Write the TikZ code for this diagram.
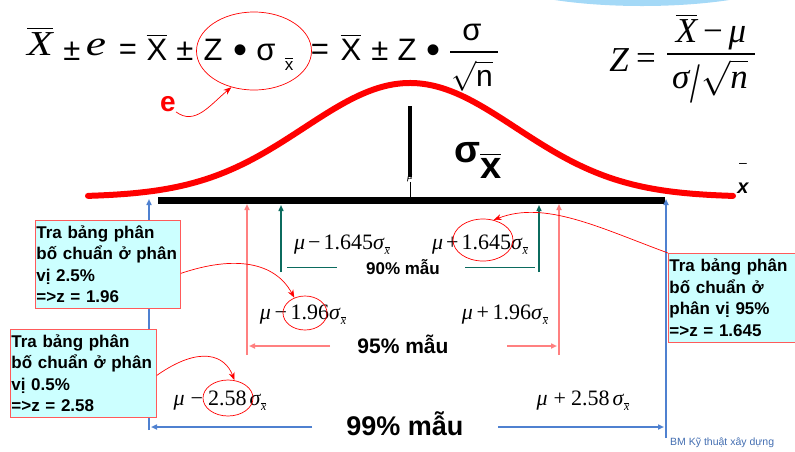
\RequirePackage{fix-cm}
\documentclass[tikz,border=0pt]{standalone}
\usepackage{amsmath}
\usepackage{graphicx}
\usepackage{fontspec}
\setmainfont{Liberation Sans}
\newfontfamily\tms{Liberation Serif}
\usetikzlibrary{arrows.meta,shapes.geometric}
\definecolor{cblue}{HTML}{4F81D0}
\definecolor{cpink}{HTML}{FF8080}
\definecolor{cteal}{HTML}{0B6B5E}
\definecolor{boxfill}{HTML}{CCFFFF}
\definecolor{boxred}{HTML}{FF5A5A}
\definecolor{skyb}{HTML}{A4D9F7}
\newcommand\sxb[1]{\textit{σ}\raisebox{-5pt}{\fontsize{#1}{#1}\selectfont$\overline{\hbox{\tms\itshape x}}$}}
\begin{document}
\begin{tikzpicture}[x=1pt,y=-1pt,
  mathlbl/.style={anchor=base,inner sep=0pt,font=\tms\fontsize{22}{22}\selectfont},
  infobox/.style={draw=boxred,fill=boxfill,line width=0.8pt,inner xsep=1pt,inner ysep=1pt,align=left,anchor=north west,font=\bfseries\fontsize{17}{21.5}\selectfont},
  ring/.style={draw=red,ellipse,line width=0.7pt,inner sep=0pt},
  callout/.style={red,line width=0.7pt,-{Stealth[length=8pt,width=6pt]}},
  varrow/.style={line width=2pt,-{Triangle[length=6pt,width=5pt]}},
  pct/.style={font=\bfseries,inner sep=0pt,anchor=base},
  fs/.style={anchor=base,inner sep=0pt,font=\fontsize{31}{31}\selectfont},
  fdot/.style={anchor=base,inner sep=0pt,font=\fontsize{40}{40}\selectfont},
  fr/.style={anchor=base,inner sep=0pt,font=\tms\itshape\fontsize{35}{35}\selectfont}
]
\useasboundingbox (0,0) rectangle (795,451);
% top-right blue shape
\fill[skyb] (642,-30) ellipse [x radius=158, y radius=36];

% formula 1
\node[fr] (fa) at (40,55) {\scalebox{1.2}[1]{$\overline{\hbox{\tms\itshape X}}$}};
\node[fs] (fb) at (72,60) {±};
\node[fr] (fc) at (96,55) {\scalebox{1.3}[1]{e}};
\node[fs] (fd) at (128,59) {=};
\node[fs] (fe) at (157,60) {$\overline{\hbox{X}}$};
\node[fs] (ff) at (185,60) {±};
\node[fs] (fg) at (213,60) {Z};
\node[fdot] (fh) at (240,63) {•};
\node[fs] (fi) at (266,60) {σ};
\node[anchor=base,inner sep=0pt,font=\fontsize{17}{17}\selectfont] (fj) at (289,70) {$\overline{\hbox{x}}$};
\node[fs] (fk) at (320,59) {=};
\node[fs] (fl) at (351,60) {$\overline{\hbox{X}}$};
\node[fs] (fm) at (380,60) {±};
\node[fs] (fn) at (407,60) {Z};
\node[fdot] (fo) at (433,63) {•};
\node[fs] (fp) at (472,40) {σ};
\coordinate (fql) at (450,52); \coordinate (fqr) at (498,52);
\draw[line width=1.3pt] (fql) -- (fqr);
\node[anchor=base,inner sep=0pt,font=\fontsize{30}{30}\selectfont] (fr) at (472,86) {$\sqrt{\hbox{n}}$};
\node[ring,minimum width=115pt,minimum height=78pt] (eZ) at (254,51) {};
\node[anchor=center,inner sep=0pt,text=red,font=\bfseries\fontsize{28}{28}\selectfont] (elbl) at (168,104) {e};
\draw[callout] (elbl.south east) .. controls (195,126) and (210,105) .. (eZ.-122);

% formula 2
\node[fr] (ga) at (619,71) {Z};
\node[anchor=base,inner sep=0pt,font=\tms\fontsize{35}{35}\selectfont] (gb) at (646,69) {=};
\node[fr] (gc) at (711,42) {$\overline{\hbox{\tms\itshape X}}$\,{\upshape −}\,μ};
\coordinate (gdl) at (667,54); \coordinate (gdr) at (755,54);
\draw[line width=1.3pt] (gdl) -- (gdr);
\node[fr] (ge) at (710,88) {σ\hspace{1pt}\raisebox{-14pt}{\scalebox{1}[1.63]{\upshape /}}\hspace{1pt}$\sqrt{\hbox{\tms\itshape n}}$};

% curve
\draw[red,line width=6pt,line cap=round,line join=round] plot[domain=88:733,samples=120,smooth] (\x,{197-114*exp(-0.5*((\x-410)/106)^2)});

% mean line
\coordinate (mtop) at (410,106);
\coordinate (mbot) at (410,177);
\draw[line width=4pt] (mtop) -- (mbot);
\node[inner sep=0pt,font=\tms\itshape\fontsize{11}{11}\selectfont] (mu) at (410,178) {μ};
\coordinate (mlo) at (410,198);
\draw[line width=0.8pt] (mu.south) -- (mlo);

% sigma xbar
\node[anchor=base west,inner sep=0pt,font=\bfseries\fontsize{38}{40}\selectfont] (sg) at (454,162) {σ\raisebox{-16pt}{$\overline{\hbox{x}}$}};

% x bar label
\node[inner sep=0pt,align=center,font=\fontsize{14}{28}\selectfont] (xl) at (743,178) {–\\[-2pt]{\fontsize{20}{20}\selectfont\bfseries\itshape x}};

% axis
\coordinate (axl) at (158,200);
\coordinate (axr) at (665,200);
\draw[line width=7pt] (axl) -- (axr);

% vertical arrows
\coordinate (bl0) at (149,430); \coordinate (bl1) at (149,199);
\coordinate (br0) at (666,438); \coordinate (br1) at (666,199);
\coordinate (pl0) at (247,355); \coordinate (pl1) at (247,204);
\coordinate (pr0) at (559,355); \coordinate (pr1) at (559,204);
\coordinate (tl0) at (281,272); \coordinate (tl1) at (281,205);
\coordinate (tr0) at (539,272); \coordinate (tr1) at (539,205);
\draw[varrow,cblue] (bl0) -- (bl1);
\draw[varrow,cblue] (br0) -- (br1);
\draw[varrow,cpink] (pl0) -- (pl1);
\draw[varrow,cpink] (pr0) -- (pr1);
\draw[varrow,cteal,line width=1.4pt] (tl0) -- (tl1);
\draw[varrow,cteal,line width=1.4pt] (tr0) -- (tr1);

% 90%
\coordinate (a90) at (287,267); \coordinate (b90) at (337,267);
\coordinate (c90) at (465,267); \coordinate (d90) at (535,267);
\draw[cteal,line width=1pt] (a90) -- (b90);
\draw[cteal,line width=1pt] (c90) -- (d90);
\node[pct,font=\bfseries\fontsize{17}{17}\selectfont] (t90) at (403,274) {90\% mẫu};
% 95%
\coordinate (a95) at (330,346); \coordinate (b95) at (249,346);
\coordinate (c95) at (507,346); \coordinate (d95) at (557,346);
\draw[cpink,line width=2pt,-{Triangle[length=6pt,width=5pt]}] (a95) -- (b95);
\draw[cpink,line width=2pt,-{Triangle[length=6pt,width=5pt]}] (c95) -- (d95);
\node[pct,font=\bfseries\fontsize{21}{21}\selectfont] (t95) at (403,353) {95\% mẫu};
% 99%
\coordinate (a99) at (312,427); \coordinate (b99) at (151,427);
\coordinate (c99) at (498,427); \coordinate (d99) at (664,427);
\draw[cblue,line width=2pt,-{Triangle[length=6pt,width=5pt]}] (a99) -- (b99);
\draw[cblue,line width=2pt,-{Triangle[length=6pt,width=5pt]}] (c99) -- (d99);
\node[pct,font=\bfseries\fontsize{27}{27}\selectfont] (t99) at (405,435) {99\% mẫu};

% math labels
\node[mathlbl] (m1) at (342,249) {\textit{μ}\hspace{3pt}−\hspace{3pt}1.645\sxb{12}};
\node[mathlbl] (m2) at (480,249) {\textit{μ}\hspace{3pt}+\hspace{3pt}1.645\sxb{12}};
\node[mathlbl] (m3) at (303,319) {\textit{μ}\,−\,1.96\sxb{12}};
\node[mathlbl] (m4) at (505,319) {\textit{μ}\,+\,1.96\sxb{12}};
\node[mathlbl] (m5) at (220,405) {\textit{μ}\hspace{6pt}−\hspace{5pt}2.58\hspace{3pt}\sxb{12}};
\node[mathlbl] (m6) at (583,405) {\textit{μ}\hspace{6pt}+\hspace{5pt}2.58\hspace{3pt}\sxb{12}};

% rings
\node[ring,minimum width=60pt,minimum height=42pt] (e1645) at (483,240) {};
\node[ring,minimum width=44pt,minimum height=34pt] (e196) at (305,313) {};
\node[ring,minimum width=50pt,minimum height=36pt] (e258) at (228,398) {};

% info boxes
\node[infobox,text width=143pt,minimum height=88pt] (b1) at (35,220) {Tra bảng phân\\bố chuẩn ở phân\\vị 2.5\%\\=>z = 1.96};
\node[infobox,text width=144pt,minimum height=88pt] (b2) at (10,329) {Tra bảng phân\\bố chuẩn ở phân\\vị 0.5\%\\=>z = 2.58};
\node[infobox,text width=130pt,minimum height=89pt] (b3) at (668,253) {Tra bảng phân\\bố chuẩn ở\\phân vị 95\%\\=>z = 1.645};

% callouts
\draw[callout] ([yshift=-9pt]b1.east) .. controls (235,255) and (275,262) .. (e196.125);
\draw[callout] ([yshift=-2pt]b2.east) .. controls (200,345) and (225,355) .. (e258.70);
\draw[callout] (b3.north west) .. controls (600,228) and (545,200) .. (e1645.62);

% footer
\node[anchor=west,inner sep=0pt,text=cblue!85!black,font=\fontsize{10.5}{11}\selectfont] (ft) at (670,443) {BM Kỹ thuật xây dựng};
\end{tikzpicture}
\end{document}
